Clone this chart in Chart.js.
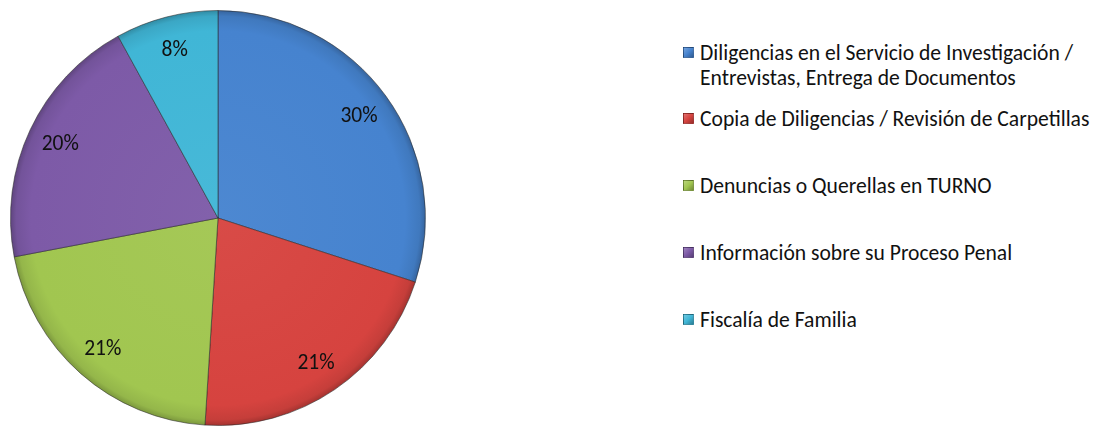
<!DOCTYPE html>
<html>
<head>
<meta charset="utf-8">
<script src="https://cdn.jsdelivr.net/npm/chart.js@4.4.1/dist/chart.umd.min.js"></script>
<style>
  html, body { margin: 0; padding: 0; background: #fff; }
  body { width: 1099px; height: 426px; position: relative; overflow: hidden;
         font-family: Carlito, Calibri, Lato, sans-serif; }
  #pieBox { position: absolute; left: 0; top: 0; width: 436px; height: 426px; }
  #legend { position: absolute; left: 683px; top: 40px; margin: 0; padding: 0; list-style: none; }
  #legend li { position: relative; padding-left: 17px; font-size: 21.6px; line-height: 25px; color: #111; white-space: nowrap; }
  #legend li .box { position: absolute; left: 0; top: 7px; width: 11px; height: 11px;
                    box-sizing: border-box; border: 1px solid rgba(0,0,0,0.25); }
</style>
</head>
<body>
<div id="pieBox"><canvas id="pie"></canvas></div>
<ul id="legend"></ul>
<script>
const categories = [
  ['Diligencias en el Servicio de Investigación /', 'Entrevistas, Entrega de Documentos'],
  ['Copia de Diligencias / Revisión de Carpetillas'],
  ['Denuncias o Querellas en TURNO'],
  ['Información sobre su Proceso Penal'],
  ['Fiscalía de Familia']
];
const values = [30, 21, 21, 20, 8];
const colors = ['#4683cf', '#d6433f', '#a1c650', '#7d5aa7', '#40b6d6'];
const legendGaps = [0, 16, 42, 42, 42];

function shade(hex, f) {
  const n = parseInt(hex.slice(1), 16);
  let r = n >> 16, g = (n >> 8) & 255, b = n & 255;
  const t = f < 0 ? 0 : 255, p = Math.abs(f);
  r = Math.round((t - r) * p + r); g = Math.round((t - g) * p + g); b = Math.round((t - b) * p + b);
  return `rgb(${r},${g},${b})`;
}

// percentage labels inside the slices
const sliceLabels = {
  id: 'sliceLabels',
  afterDatasetsDraw(chart) {
    const ctx = chart.ctx;
    const meta = chart.getDatasetMeta(0);
    const total = values.reduce((a, b) => a + b, 0);
    ctx.save();
    ctx.font = '21.5px Carlito, Calibri, Lato, sans-serif';
    ctx.fillStyle = '#111';
    ctx.textAlign = 'center';
    ctx.textBaseline = 'middle';
    meta.data.forEach((arc, i) => {
      const { x, y, startAngle, endAngle, outerRadius } = arc.getProps(['x', 'y', 'startAngle', 'endAngle', 'outerRadius'], true);
      const mid = (startAngle + endAngle) / 2;
      const r = outerRadius * 0.84;
      ctx.fillText(Math.round(values[i] / total * 100) + '%', x + Math.cos(mid) * r, y + Math.sin(mid) * r + 1);
    });
    ctx.restore();
  }
};

new Chart(document.getElementById('pie'), {
  type: 'pie',
  data: {
    labels: categories.map(c => c.join(' ')),
    datasets: [{
      data: values,
      backgroundColor: (c) => {
        const chart = c.chart;
        const area = chart.chartArea;
        if (!area) return colors[c.dataIndex];
        const cx = (area.left + area.right) / 2, cy = (area.top + area.bottom) / 2;
        const R = Math.min(area.right - area.left, area.bottom - area.top) / 2;
        const g = chart.ctx.createRadialGradient(cx, cy, 0, cx, cy, R);
        const base = colors[c.dataIndex];
        g.addColorStop(0, shade(base, 0.04));
        g.addColorStop(0.9, base);
        g.addColorStop(0.97, shade(base, -0.08));
        g.addColorStop(1, shade(base, -0.25));
        return g;
      },
      borderColor: 'rgba(40,40,40,0.55)',
      borderWidth: 1
    }]
  },
  options: {
    responsive: true,
    maintainAspectRatio: false,
    animation: false,
    layout: { padding: { top: 10, bottom: 0, left: 10, right: 10 } },
    plugins: {
      legend: { display: false },
      tooltip: { enabled: false }
    }
  },
  plugins: [sliceLabels]
});

// legend at the right
const ul = document.getElementById('legend');
categories.forEach((lines, i) => {
  const li = document.createElement('li');
  li.style.marginTop = legendGaps[i] + 'px';
  const box = document.createElement('span');
  box.className = 'box';
  box.style.background = `linear-gradient(135deg, ${shade(colors[i], 0.25)}, ${colors[i]} 50%, ${shade(colors[i], -0.3)})`;
  li.appendChild(box);
  li.appendChild(document.createTextNode(lines[0]));
  for (let k = 1; k < lines.length; k++) {
    li.appendChild(document.createElement('br'));
    li.appendChild(document.createTextNode(lines[k]));
  }
  ul.appendChild(li);
});
</script>
</body>
</html>
